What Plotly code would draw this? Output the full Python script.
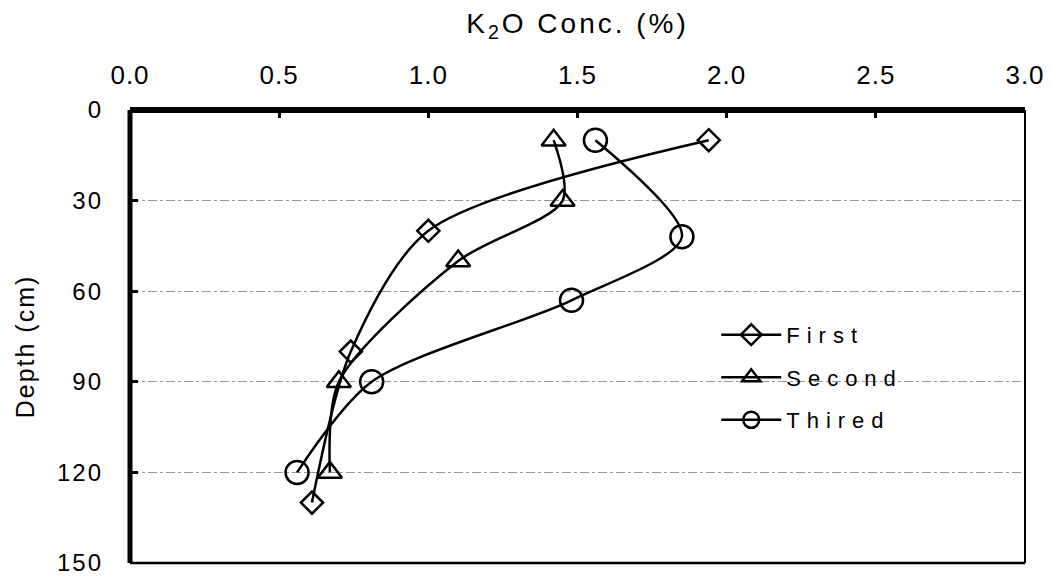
import plotly.graph_objects as go

first_x = [1.94, 1.00, 0.74, 0.61]
first_y = [10, 40, 80, 130]
second_x = [1.42, 1.45, 1.10, 0.70, 0.67]
second_y = [10, 30, 50, 90, 120]
third_x = [1.56, 1.85, 1.48, 0.81, 0.56]
third_y = [10, 42, 63, 90, 120]

x_ticks = [0.0, 0.5, 1.0, 1.5, 2.0, 2.5, 3.0]
y_ticks = [0, 30, 60, 90, 120, 150]

def spaced(t, px):
    return f'<span style="letter-spacing:{px}px">{t}</span>'

fig = go.Figure()
series = [
    ("First", first_x, first_y, "diamond-open", 17),
    ("Second", second_x, second_y, "triangle-up-open", 21),
    ("Thired", third_x, third_y, "circle-open", 23),
]
for name, xs, ys, sym, sz in series:
    fig.add_trace(go.Scatter(
        x=xs, y=ys, name=spaced(name, 7), legendgroup=name, mode="lines+markers",
        line=dict(color="black", width=2.5, shape="spline", smoothing=0.8),
        marker=dict(symbol=sym, size=sz, color="black", line=dict(width=2.5, color="black")),
    ))

fig.update_layout(
    width=1053, height=583,
    margin=dict(l=122, r=36, t=102, b=28),
    paper_bgcolor="white", plot_bgcolor="white",
    font=dict(family="Liberation Sans, Arial, sans-serif", size=21, color="black"),
    showlegend=True,
    legend=dict(x=0.655, y=0.55, xanchor="left", yanchor="top",
                bgcolor="rgba(255,255,255,0)", font=dict(size=22),
                itemwidth=60, traceorder="grouped", tracegroupgap=11),
    xaxis=dict(
        side="top", range=[0, 3], tickvals=x_ticks,
        ticktext=[spaced(f"{v:.1f}", 1) for v in x_ticks],
        tickfont=dict(size=26),
        ticks="inside", ticklen=8, tickwidth=3, tickcolor="black",
        ticklabelstandoff=20, automargin=False,
        showgrid=False, zeroline=False, showline=False,
        title=dict(text=spaced("K<sub>2</sub>O Conc. (%)", 3), standoff=22,
                   font=dict(size=28)),
    ),
    yaxis=dict(
        range=[150, 0], tickvals=y_ticks,
        ticktext=[spaced(str(v), 2) for v in y_ticks],
        tickfont=dict(size=24),
        ticks="inside", ticklen=8, tickwidth=3, tickcolor="black",
        ticklabelstandoff=26, automargin=False,
        showgrid=True, gridcolor="#999999", gridwidth=1, griddash="dashdot",
        zeroline=False, showline=False,
    ),
    annotations=[dict(
        text=spaced("Depth (cm)", 2), textangle=-90, showarrow=False,
        xref="paper", yref="paper", x=-0.117, y=0.479,
        xanchor="center", yanchor="middle", font=dict(size=25),
    )],
)

# frame: thin right/bottom, thick top/left
fig.add_shape(type="line", xref="paper", yref="paper", x0=1, x1=1, y0=0, y1=1,
              line=dict(color="black", width=2))
fig.add_shape(type="line", xref="paper", yref="paper", x0=0, x1=1, y0=0, y1=0,
              line=dict(color="black", width=2.5))
fig.add_shape(type="line", xref="paper", yref="paper", x0=0, x1=1, y0=1, y1=1,
              line=dict(color="black", width=6))
fig.add_shape(type="line", xref="paper", yref="paper", x0=0, x1=0, y0=0, y1=1,
              line=dict(color="black", width=5))

fig.write_html("out.html")
